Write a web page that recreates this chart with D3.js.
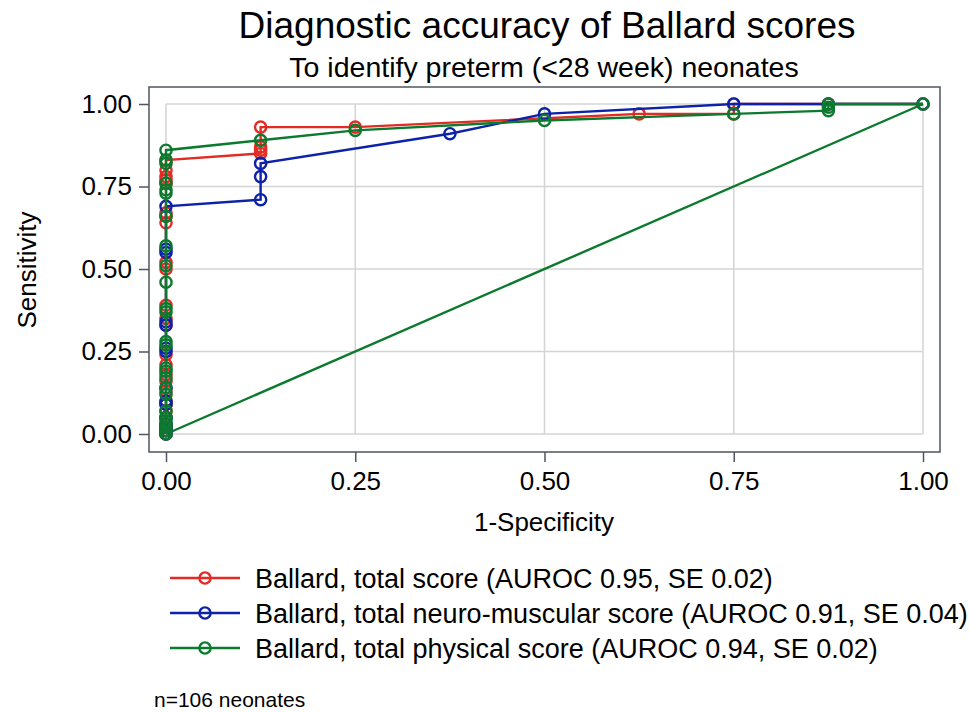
<!DOCTYPE html>
<html>
<head>
<meta charset="utf-8">
<script src="https://cdn.jsdelivr.net/npm/d3@7"></script>
<style>
  body { margin: 0; background: #fff; }
  svg text { font-family: "Liberation Sans", Arial, sans-serif; fill: #000; }
</style>
</head>
<body>
<svg id="chart" width="970" height="712"></svg>
<script>
// ROC points: [1-specificity, sensitivity]
var totalScore = [
  [0,0],[0,0.01],[0,0.02],[0,0.03],[0,0.05],[0,0.07],[0,0.09],[0,0.10],[0,0.13],[0,0.16],
  [0,0.18],[0,0.21],[0,0.24],[0,0.33],[0,0.35],[0,0.39],[0,0.50],[0,0.52],[0,0.64],[0,0.66],
  [0,0.67],[0,0.76],[0,0.77],[0,0.78],[0,0.80],[0,0.83],
  [0.125,0.85],[0.125,0.86],[0.125,0.87],[0.125,0.93],
  [0.25,0.93],[0.625,0.97],[0.75,0.97],[0.75,1],[0.875,1],[1,1]
];
var neuroScore = [
  [0,0],[0,0.01],[0,0.02],[0,0.03],[0,0.05],[0,0.09],[0,0.10],[0,0.14],[0,0.25],[0,0.26],
  [0,0.33],[0,0.34],[0,0.55],[0,0.56],[0,0.69],
  [0.125,0.71],[0.125,0.78],[0.125,0.82],
  [0.375,0.91],[0.5,0.97],[0.75,1],[0.875,1],[1,1]
];
var physicalScore = [
  [0,0],[0,0.01],[0,0.02],[0,0.03],[0,0.04],[0,0.05],[0,0.07],[0,0.12],[0,0.14],[0,0.17],
  [0,0.19],[0,0.20],[0,0.27],[0,0.28],[0,0.37],[0,0.38],[0,0.46],[0,0.51],[0,0.57],[0,0.66],
  [0,0.73],[0,0.74],[0,0.76],[0,0.82],[0,0.83],[0,0.86],
  [0.125,0.89],[0.25,0.92],[0.5,0.95],[0.75,0.97],
  [0.875,0.98],[0.875,0.99],[0.875,1],[1,1]
];
var refLine = [[0,0],[1,1]];

var seriesNames = ['Ballard, total score (AUROC 0.95, SE 0.02)',
                   'Ballard, total neuro-muscular score (AUROC 0.91, SE 0.04)',
                   'Ballard, total physical score (AUROC 0.94, SE 0.02)'];
var seriesColors = ['#e32b24', '#0c22a8', '#0c7a2e'];
var tickVals = [0, 0.25, 0.5, 0.75, 1];

var svg = d3.select('#chart');
var frame = {left: 149, right: 940, top: 87, bottom: 452};

var x = d3.scaleLinear().domain([0, 1]).range([166, 923]);
var y = d3.scaleLinear().domain([0, 1]).range([434, 104]);

// titles
svg.append('text').attr('x', 547).attr('y', 38).attr('text-anchor', 'middle')
  .style('font-size', '37px').text('Diagnostic accuracy of Ballard scores');
svg.append('text').attr('x', 544).attr('y', 77).attr('text-anchor', 'middle')
  .style('font-size', '28.5px').text('To identify preterm (<28 week) neonates');

// grid
var grid = svg.append('g').attr('class', 'grid');
grid.selectAll('.gx').data(tickVals).enter().append('line')
  .attr('x1', function(d){ return x(d); }).attr('x2', function(d){ return x(d); })
  .attr('y1', y(0)).attr('y2', y(1))
  .attr('stroke', '#d4d4d4').attr('stroke-width', 1.5);
grid.selectAll('.gy').data(tickVals).enter().append('line')
  .attr('y1', function(d){ return y(d); }).attr('y2', function(d){ return y(d); })
  .attr('x1', x(0)).attr('x2', x(1))
  .attr('stroke', '#d4d4d4').attr('stroke-width', 1.5);

// frame
svg.append('rect')
  .attr('x', frame.left).attr('y', frame.top)
  .attr('width', frame.right - frame.left).attr('height', frame.bottom - frame.top)
  .attr('fill', 'none').attr('stroke', '#4f5661').attr('stroke-width', 1.5);

// axes
var axisY = d3.axisLeft(y).tickValues(tickVals).tickSize(10).tickPadding(7).tickFormat(d3.format('.2f'));
var gy = svg.append('g').attr('transform', 'translate(' + frame.left + ',0)').call(axisY);
var axisX = d3.axisBottom(x).tickValues(tickVals).tickSize(10).tickPadding(10).tickFormat(d3.format('.2f'));
var gx = svg.append('g').attr('transform', 'translate(0,' + frame.bottom + ')').call(axisX);
[gx, gy].forEach(function(g){
  g.select('.domain').remove();
  g.selectAll('.tick line').attr('stroke', '#4f5661').attr('stroke-width', 1.5);
  g.selectAll('.tick text').style('font-size', '26px').attr('fill', '#000')
    .style('font-family', '"Liberation Sans", Arial, sans-serif');
});

svg.append('text').attr('transform', 'translate(36,' + 270 + ') rotate(-90)')
  .attr('text-anchor', 'middle').style('font-size', '26px').text('Sensitivity');
svg.append('text').attr('x', 544).attr('y', 531).attr('text-anchor', 'middle')
  .style('font-size', '26px').text('1-Specificity');

// curves
var line = d3.line().x(function(d){ return x(d[0]); }).y(function(d){ return y(d[1]); });
var plot = svg.append('g');
var allSeries = [totalScore, neuroScore, physicalScore];

plot.append('path').datum(refLine).attr('d', line)
  .attr('fill', 'none').attr('stroke', seriesColors[2]).attr('stroke-width', 2.4);

allSeries.forEach(function(s, i){
  var g = plot.append('g');
  g.append('path').datum(s).attr('d', line)
    .attr('fill', 'none').attr('stroke', seriesColors[i]).attr('stroke-width', 2.4);
  g.selectAll('circle').data(s).enter().append('circle')
    .attr('cx', function(d){ return x(d[0]); })
    .attr('cy', function(d){ return y(d[1]); })
    .attr('r', 5.6)
    .attr('fill', 'none').attr('stroke', seriesColors[i]).attr('stroke-width', 2.4);
});

// legend
var legend = svg.append('g').attr('transform', 'translate(170,578)');
var item = legend.selectAll('g').data(seriesNames).enter().append('g')
  .attr('transform', function(d, i){ return 'translate(0,' + (i * 35) + ')'; });
item.append('line').attr('x1', 0).attr('x2', 70).attr('y1', 0).attr('y2', 0)
  .attr('stroke', function(d, i){ return seriesColors[i]; }).attr('stroke-width', 2.4);
item.append('circle').attr('cx', 35).attr('cy', 0).attr('r', 5.6)
  .attr('fill', 'none').attr('stroke', function(d, i){ return seriesColors[i]; }).attr('stroke-width', 2.4);
item.append('text').attr('x', 85).attr('y', 10).style('font-size', '27px').text(function(d){ return d; });

svg.append('text').attr('x', 154).attr('y', 707).style('font-size', '21px').text('n=106 neonates');
</script>
</body>
</html>
